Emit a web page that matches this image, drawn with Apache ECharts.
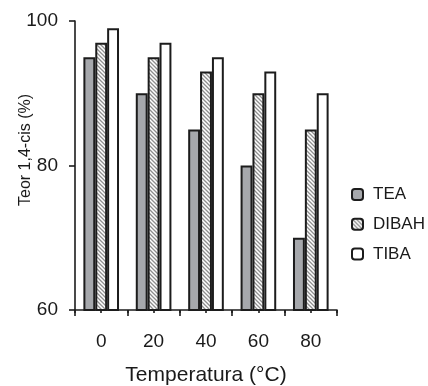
<!DOCTYPE html>
<html>
<head>
<meta charset="utf-8">
<script src="https://cdn.jsdelivr.net/npm/echarts@6/dist/echarts.min.js"></script>
<style>html,body{margin:0;padding:0;background:#fff}#c{width:428px;height:386px}</style>
</head>
<body>
<div id="c"></div>
<script>
var categories = ['0', '20', '40', '60', '80'];
var seriesNames = ['TEA', 'DIBAH', 'TIBA'];
var teaValues = [95, 90, 85, 80, 70];
var dibahValues = [97, 95, 93, 90, 85];
var tibaValues = [99, 97, 95, 93, 90];
var yTicks = [60, 80, 100];
var xName = 'Temperatura (°C)';
var yName = 'Teor 1,4-cis (%)';

function hatch() {
  var c = document.createElement('canvas');
  c.width = 4; c.height = 4;
  var g = c.getContext('2d');
  g.fillStyle = '#ffffff';
  g.fillRect(0, 0, 4, 4);
  g.strokeStyle = '#8e8e8e';
  g.lineWidth = 1.3;
  g.beginPath();
  g.moveTo(-1, -1); g.lineTo(5, 5);
  g.moveTo(-1, 3); g.lineTo(1, 5);
  g.moveTo(3, -1); g.lineTo(5, 1);
  g.stroke();
  return { image: c, repeat: 'repeat' };
}

var font = 'Liberation Sans, Arial, sans-serif';
var border = { borderColor: '#1c1c1c', borderWidth: 2 };
var chart = echarts.init(document.getElementById('c'), null, { renderer: 'canvas' });
chart.setOption({
  animation: false,
  backgroundColor: '#ffffff',
  grid: { left: 75, right: 91, top: 21, bottom: 76, containLabel: false, outerBoundsMode: 'none' },
  legend: {
    orient: 'vertical', left: 351, top: 186, padding: 0,
    itemWidth: 11, itemHeight: 11, itemGap: 12.7,
    textStyle: { fontFamily: font, fontSize: 17, lineHeight: 17, color: '#1a1a1a', padding: [0, 0, 0, 5] },
    data: seriesNames
  },
  xAxis: [{
    type: 'category', data: categories,
    name: xName, nameLocation: 'middle', nameGap: 55, nameMoveOverlap: false,
    nameTextStyle: { fontFamily: font, fontSize: 21, color: '#1a1a1a' },
    axisLine: { lineStyle: { color: '#1c1c1c', width: 1.6 } },
    axisTick: { show: true, length: 6, lineStyle: { color: '#1c1c1c', width: 1.6 } },
    axisLabel: { fontFamily: font, fontSize: 19, color: '#1a1a1a', margin: 22 }
  }, {
    type: 'category', data: categories.concat(categories), position: 'bottom',
    axisLine: { show: false },
    axisTick: { show: true, length: 3, lineStyle: { color: '#1c1c1c', width: 1.6 } },
    axisLabel: { show: false }
  }],
  yAxis: {
    type: 'value', min: yTicks[0], max: yTicks[yTicks.length - 1], interval: 20,
    name: yName, nameLocation: 'middle', nameGap: 41, nameMoveOverlap: false,
    nameTextStyle: { fontFamily: font, fontSize: 16, color: '#1a1a1a', padding: [0, 0, 0, 31] },
    axisLine: { show: true, lineStyle: { color: '#1c1c1c', width: 1.6 } },
    axisTick: { show: true, length: 6, lineStyle: { color: '#1c1c1c', width: 1.6 } },
    splitLine: { show: false },
    axisLabel: { fontFamily: font, fontSize: 19, color: '#1a1a1a', margin: 17 }
  },
  series: [
    { name: seriesNames[0], type: 'bar', data: teaValues, barGap: '0%', barCategoryGap: '32%',
      itemStyle: Object.assign({ color: '#a6a8ac' }, border) },
    { name: seriesNames[1], type: 'bar', data: dibahValues, barGap: '0%', barCategoryGap: '32%',
      itemStyle: Object.assign({ color: hatch() }, border) },
    { name: seriesNames[2], type: 'bar', data: tibaValues, barGap: '0%', barCategoryGap: '32%',
      itemStyle: Object.assign({ color: '#ffffff' }, border) }
  ]
});
</script>
</body>
</html>
